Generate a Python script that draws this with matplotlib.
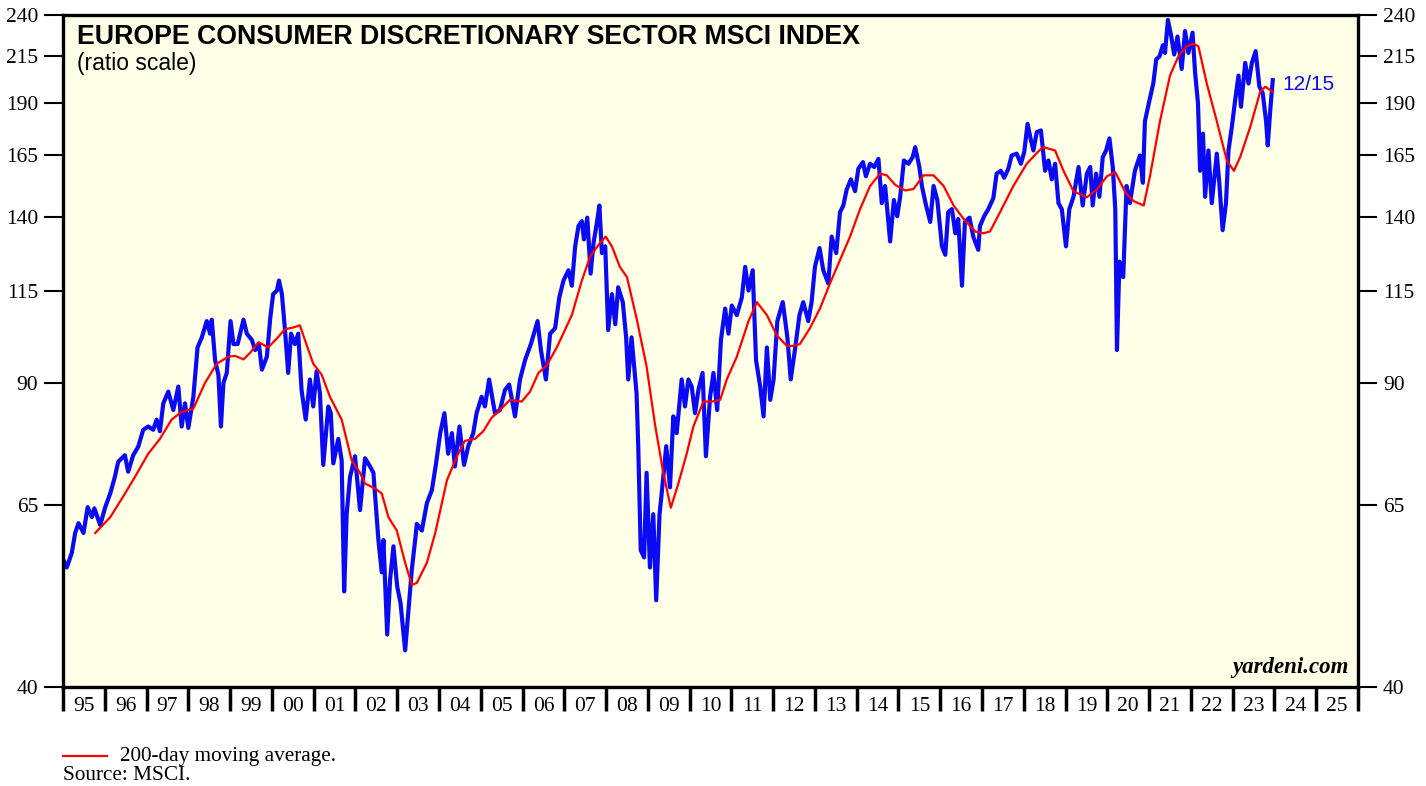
import numpy as np
import matplotlib.pyplot as plt
from matplotlib.ticker import FixedLocator, NullFormatter

# index (decimal year, value)
idx_year = [1995.01, 1995.09, 1995.21, 1995.29, 1995.37, 1995.49, 1995.59, 1995.69, 1995.75, 1995.89,
            1996.01, 1996.13, 1996.24, 1996.32, 1996.48, 1996.56, 1996.68, 1996.80, 1996.92,
            1997.04, 1997.16, 1997.24, 1997.32, 1997.40, 1997.52, 1997.64, 1997.76, 1997.84, 1997.92,
            1998.00, 1998.12, 1998.22, 1998.32, 1998.44, 1998.52, 1998.56, 1998.64, 1998.72, 1998.78, 1998.84, 1998.92,
            1999.01, 1999.08, 1999.18, 1999.32, 1999.40, 1999.52, 1999.60, 1999.69, 1999.76, 1999.88, 1999.96,
            2000.03, 2000.12, 2000.17, 2000.24, 2000.31, 2000.39, 2000.46, 2000.55, 2000.63, 2000.71, 2000.81, 2000.91, 2000.99,
            2001.07, 2001.15, 2001.23, 2001.35, 2001.41, 2001.47, 2001.59, 2001.67, 2001.73, 2001.79, 2001.87, 2001.99,
            2002.11, 2002.23, 2002.35, 2002.43, 2002.55, 2002.63, 2002.67, 2002.76, 2002.83, 2002.91,
            2003.00, 2003.08, 2003.19, 2003.27, 2003.35, 2003.43, 2003.47, 2003.59, 2003.71, 2003.83, 2003.93,
            2004.03, 2004.13, 2004.22, 2004.31, 2004.38, 2004.49, 2004.60, 2004.70, 2004.82, 2004.90,
            2005.02, 2005.10, 2005.20, 2005.34, 2005.46, 2005.58, 2005.68, 2005.82, 2005.94,
            2006.06, 2006.20, 2006.36, 2006.44, 2006.56, 2006.66, 2006.78, 2006.88, 2006.98,
            2007.10, 2007.18, 2007.26, 2007.34, 2007.42, 2007.47, 2007.55, 2007.63, 2007.70, 2007.78, 2007.84, 2007.90, 2007.98,
            2008.05, 2008.14, 2008.22, 2008.29, 2008.40, 2008.48, 2008.53, 2008.61, 2008.73, 2008.77, 2008.83, 2008.91, 2008.97,
            2009.05, 2009.13, 2009.20, 2009.28, 2009.37, 2009.44, 2009.53, 2009.61, 2009.69, 2009.81, 2009.89, 2009.97,
            2010.05, 2010.13, 2010.21, 2010.31, 2010.39, 2010.49, 2010.57, 2010.66, 2010.75, 2010.85, 2010.93,
            2011.01, 2011.13, 2011.25, 2011.33, 2011.41, 2011.51, 2011.59, 2011.69, 2011.77, 2011.85, 2011.93,
            2012.01, 2012.10, 2012.23, 2012.34, 2012.42, 2012.52, 2012.63, 2012.72, 2012.84, 2012.92,
            2013.00, 2013.11, 2013.20, 2013.32, 2013.40, 2013.51, 2013.60, 2013.68, 2013.76, 2013.86, 2013.96,
            2014.04, 2014.15, 2014.22, 2014.32, 2014.42, 2014.52, 2014.60, 2014.68, 2014.80, 2014.89, 2014.97,
            2015.04, 2015.13, 2015.24, 2015.34, 2015.40, 2015.50, 2015.56, 2015.66, 2015.76, 2015.84, 2015.93,
            2016.04, 2016.12, 2016.19, 2016.28, 2016.36, 2016.43, 2016.52, 2016.59, 2016.70, 2016.79, 2016.91, 2016.95,
            2017.05, 2017.15, 2017.27, 2017.35, 2017.45, 2017.53, 2017.63, 2017.71, 2017.83, 2017.93,
            2018.01, 2018.09, 2018.17, 2018.23, 2018.31, 2018.41, 2018.51, 2018.59, 2018.67, 2018.75, 2018.83, 2018.91,
            2019.01, 2019.09, 2019.19, 2019.31, 2019.41, 2019.51, 2019.59, 2019.65, 2019.73, 2019.81, 2019.89, 2019.97,
            2020.05, 2020.13, 2020.19, 2020.23, 2020.29, 2020.38, 2020.46, 2020.54, 2020.66, 2020.78, 2020.85, 2020.90,
            2021.01, 2021.10, 2021.17, 2021.25, 2021.33, 2021.38, 2021.45, 2021.53, 2021.60, 2021.68, 2021.78, 2021.86, 2021.94,
            2022.04, 2022.10, 2022.17, 2022.22, 2022.29, 2022.34, 2022.42, 2022.50, 2022.62, 2022.68, 2022.76, 2022.84, 2022.90, 2022.98,
            2023.06, 2023.14, 2023.20, 2023.30, 2023.38, 2023.46, 2023.55, 2023.64, 2023.72, 2023.80, 2023.84, 2023.90, 2023.96]
idx_val = [56.1, 55.0, 57.2, 60.3, 61.9, 60.3, 64.6, 62.9, 64.4, 61.6,
           64.6, 67.0, 70.0, 72.9, 74.2, 71.0, 74.2, 75.9, 79.4,
           80.1, 79.4, 81.6, 79.1, 85.2, 87.9, 83.7, 89.1, 80.1, 85.2,
           79.8, 86.7, 98.9, 101.5, 106.1, 102.6, 106.5, 95.6, 91.9, 80.1, 90.0, 92.4,
           106.1, 99.8, 99.8, 106.5, 102.6, 100.9, 98.2, 99.8, 93.2, 96.5, 106.9,
           114.0, 115.1, 118.2, 114.0, 104.1, 92.4, 102.6, 99.8, 102.6, 88.3, 81.6, 90.8, 84.5,
           92.8, 87.5, 72.3, 84.5, 83.0, 72.6, 77.5, 73.2, 51.6, 63.4, 70.0, 74.0,
           64.1, 73.6, 72.0, 70.8, 59.2, 54.3, 59.2, 46.0, 53.3, 58.2,
           52.3, 50.0, 44.1, 49.1, 54.7, 59.2, 61.8, 60.7, 65.3, 67.6, 72.6,
           78.7, 83.0, 74.5, 78.7, 72.0, 80.1, 72.3, 76.0, 78.7, 83.0,
           86.7, 84.5, 90.8, 83.0, 83.7, 88.3, 89.6, 82.3, 90.8,
           95.6, 99.8, 106.1, 98.2, 90.8, 102.6, 104.1, 113.0, 118.2,
           121.5, 116.6, 129.5, 136.7, 138.5, 131.9, 139.8, 120.4, 130.7, 137.9, 144.4, 127.2, 129.5,
           103.6, 114.0, 105.2, 116.1, 111.6, 101.6, 90.8, 101.6, 87.5, 76.0, 57.6, 56.5, 70.8,
           55.0, 63.4, 50.4, 63.4, 70.0, 76.0, 68.1, 82.3, 78.7, 90.8, 84.5, 90.8,
           89.1, 83.0, 88.3, 92.4, 74.0, 86.7, 92.4, 83.7, 100.9, 109.7, 102.6,
           110.6, 107.8, 113.0, 122.6, 115.1, 121.5, 95.6, 89.1, 82.3, 98.9, 86.0,
           90.8, 106.1, 111.6, 101.6, 90.8, 98.2, 107.8, 111.6, 106.1, 111.6,
           122.6, 128.9, 121.5, 117.3, 132.9, 127.2, 141.8, 144.4, 150.7, 154.8, 150.0,
           159.3, 162.1, 156.1, 161.4, 160.0, 163.5, 145.3, 152.1, 131.2, 146.5, 140.3,
           147.8, 162.8, 161.4, 164.3, 168.7, 160.0, 152.1, 144.4, 138.2, 152.1, 146.5,
           129.5, 126.6, 141.8, 143.0, 134.1, 139.3, 116.6, 138.2, 139.8, 132.9, 128.3, 136.7,
           140.3, 143.0, 147.2, 157.2, 158.4, 155.5, 159.3, 165.0, 165.8, 161.4,
           166.5, 179.5, 171.9, 167.2, 175.6, 176.4, 158.4, 162.8, 154.8, 161.4, 145.3, 143.0,
           129.5, 143.0, 147.8, 160.0, 144.4, 157.2, 160.0, 144.4, 157.2, 147.8, 164.3, 167.2,
           172.7, 160.0, 143.0, 98.2, 124.3, 119.3, 152.1, 145.3, 158.4, 165.0, 153.4, 180.8,
           191.3, 199.9, 213.1, 214.9, 221.4, 216.9, 236.8, 226.6, 216.0, 226.6, 207.8, 229.9, 216.9,
           228.9, 206.0, 189.6, 158.4, 174.9, 147.8, 167.2, 145.3, 165.8, 153.4, 135.2, 145.3, 167.2, 178.0,
           191.3, 204.2, 187.9, 211.2, 199.9, 211.2, 217.9, 198.2, 194.7, 180.8, 169.5, 186.2, 201.7]

# 200-day moving average
ma_year = [1995.77, 1996.13, 1996.41, 1996.72, 1997.04, 1997.32, 1997.60, 1997.84, 1998.12, 1998.40, 1998.68, 1998.96,
           1999.12, 1999.32, 1999.48, 1999.68, 1999.91, 2000.12, 2000.31, 2000.51, 2000.67, 2000.79, 2000.99,
           2001.19, 2001.39, 2001.67, 2001.91, 2002.11, 2002.23, 2002.47, 2002.63, 2002.79, 2002.99,
           2003.19, 2003.35, 2003.47, 2003.71, 2003.91, 2004.19, 2004.43, 2004.62, 2004.86,
           2005.06, 2005.26, 2005.46, 2005.70, 2005.98, 2006.18, 2006.38, 2006.58, 2006.82,
           2007.18, 2007.42, 2007.62, 2007.82, 2007.99, 2008.14, 2008.33, 2008.50, 2008.73, 2008.97,
           2009.17, 2009.37, 2009.55, 2009.73, 2009.93, 2010.09, 2010.33, 2010.53, 2010.73, 2010.89,
           2011.13, 2011.41, 2011.61, 2011.85, 2012.09, 2012.33, 2012.48, 2012.64, 2012.88,
           2013.12, 2013.36, 2013.60, 2013.84, 2014.08, 2014.32, 2014.56, 2014.72, 2014.92,
           2015.16, 2015.36, 2015.60, 2015.84, 2016.08, 2016.32, 2016.56, 2016.84,
           2017.03, 2017.19, 2017.43, 2017.75, 2018.07, 2018.37, 2018.47, 2018.75, 2018.95,
           2019.19, 2019.51, 2019.75, 2019.99, 2020.19, 2020.44, 2020.63, 2020.87,
           2021.02, 2021.26, 2021.50, 2021.70, 2021.90, 2022.06, 2022.18, 2022.38, 2022.62, 2022.86,
           2023.03, 2023.18, 2023.42, 2023.66, 2023.78, 2023.96]
ma_val = [60.3, 62.9, 66.1, 70.0, 74.5, 77.5, 81.6, 83.3, 84.0, 90.0, 94.7, 96.5,
          96.7, 95.8, 97.5, 100.3, 98.9, 101.3, 103.8, 104.3, 104.9, 100.9, 94.7,
          92.0, 86.7, 81.6, 73.2, 70.8, 68.8, 67.9, 67.0, 62.9, 60.7,
          55.7, 52.5, 52.8, 55.7, 60.3, 69.4, 74.0, 77.1, 77.5,
          79.1, 82.0, 83.7, 86.0, 85.6, 87.9, 92.4, 94.3, 98.9,
          107.8, 118.2, 126.1, 130.0, 132.9, 129.5, 122.6, 119.3, 106.9, 94.0,
          80.6, 70.8, 64.5, 68.8, 74.5, 80.1, 85.6, 85.6, 86.0, 90.8,
          96.5, 106.1, 111.6, 107.8, 102.1, 99.3, 99.3, 99.8, 104.1,
          109.7, 117.3, 124.9, 132.9, 143.0, 152.1, 157.2, 156.5, 152.6,
          150.3, 150.9, 156.5, 156.5, 152.1, 144.4, 139.3, 134.7,
          134.1, 134.7, 141.8, 152.1, 161.4, 167.2, 168.7, 167.2, 158.4,
          150.0, 147.6, 150.7, 156.1, 157.8, 149.3, 146.1, 144.4,
          156.1, 180.8, 204.2, 214.9, 220.7, 222.3, 220.7, 199.9, 180.8, 162.8,
          158.4, 164.3, 178.0, 195.6, 198.2, 195.6]

yticks = [40, 65, 90, 115, 140, 165, 190, 215, 240]
years = list(range(1995, 2027))
year_labels = ['%02d' % (y % 100) for y in years[:-1]]

fig = plt.figure(figsize=(14.26, 7.86), dpi=100)
ax = fig.add_axes([0.0442, 0.126, 0.9081, 0.855])
ax.set_facecolor('#fffee6')

ax.plot(idx_year, idx_val, color='#0a0af5', lw=3.0, solid_joinstyle='round')
ax.plot(ma_year, ma_val, color='#ff0000', lw=1.6)

ax.set_yscale('log')
ax.set_ylim(40, 240)
ax.set_xlim(1995, 2026)

ax.yaxis.set_major_locator(FixedLocator(yticks))
ax.yaxis.set_minor_locator(FixedLocator([]))
ax.set_yticks(yticks)
ax.set_yticklabels([str(v) for v in yticks])
ax.tick_params(axis='y', which='major', direction='out', length=14, width=1.5,
               labelsize=15.5, left=True, right=True, labelleft=True, labelright=True, pad=4)

ax.set_xticks(years)
ax.xaxis.set_major_formatter(NullFormatter())
ax.set_xticks([y + 0.5 for y in years[:-1]], minor=True)
ax.set_xticklabels(year_labels, minor=True)
ax.tick_params(axis='x', which='major', direction='out', length=17, width=2.5)
ax.tick_params(axis='x', which='minor', length=0, labelsize=15.5, pad=7)

for lab in ax.get_yticklabels() + ax.get_xticklabels(minor=True):
    lab.set_family('Liberation Serif')

for s in ax.spines.values():
    s.set_linewidth(2.4)

ax.text(0.011, 0.987, 'EUROPE CONSUMER DISCRETIONARY SECTOR MSCI INDEX', transform=ax.transAxes,
        fontsize=19.3, fontweight='bold', family='Liberation Sans', va='top')
ax.text(0.011, 0.945, '(ratio scale)', transform=ax.transAxes,
        fontsize=16.5, family='Liberation Sans', va='top')
ax.annotate('12/15', xy=(idx_year[-1], idx_val[-1]), xytext=(7, -3), textcoords='offset points',
            color='#0a0af5', fontsize=15, family='Liberation Sans', va='center')
ax.text(0.9925, 0.013, 'yardeni.com', transform=ax.transAxes, fontsize=16.5,
        fontweight='bold', style='italic', family='Liberation Serif', ha='right', va='bottom')

fig.lines.append(plt.Line2D([0.0442, 0.0752], [0.038, 0.038], transform=fig.transFigure,
                            color='#ff0000', lw=1.6))
fig.text(0.084, 0.038, '200-day moving average.', fontsize=15.3, family='Liberation Serif', va='center')
fig.text(0.0442, 0.013, 'Source: MSCI.', fontsize=15.3, family='Liberation Serif', va='center')

fig.savefig('out.png', dpi=100)
